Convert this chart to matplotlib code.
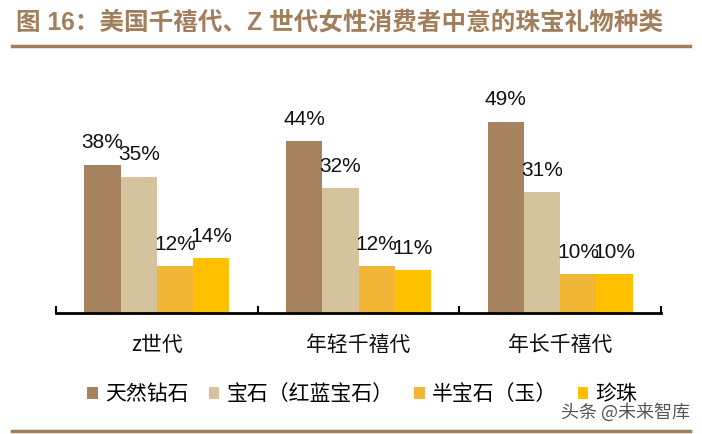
import matplotlib
matplotlib.use("Agg")
import matplotlib.pyplot as plt
from matplotlib.patches import Patch
from matplotlib.lines import Line2D
import numpy as np

plt.rcParams['font.family'] = ['Noto Sans CJK SC', 'DejaVu Sans']

# data
groups = ['z世代', '年轻千禧代', '年长千禧代']
series = ['天然钻石', '宝石（红蓝宝石）', '半宝石（玉）', '珍珠']
diamond = [38, 44, 49]
gem = [35, 32, 31]
semi_gem = [12, 12, 10]
pearl = [14, 11, 10]
values = [diamond, gem, semi_gem, pearl]
colors = ['#A6835E', '#D4C39C', '#F2B636', '#FFC000']

title = '图 16：美国千禧代、Z 世代女性消费者中意的珠宝礼物种类'
watermark = '头条 @未来智库'
brown = '#A27F5C'

fig = plt.figure(figsize=(7.02, 4.34), dpi=100)
ax = fig.add_axes([0.0798, 0.2788, 0.8618, 0.539])

x = np.arange(len(groups))
width = 0.18
offsets = [-0.27, -0.09, 0.09, 0.27]
for vals, off, col in zip(values, offsets, colors):
    bars = ax.bar(x + off, vals, width=width, color=col, zorder=2)
    for b, v in zip(bars, vals):
        ax.annotate(f'{v}%', (b.get_x() + b.get_width() / 2, v),
                    xytext=(0, 9), textcoords='offset points',
                    ha='center', va='bottom', fontsize=15,
                    family=['Liberation Sans'], color='#111111')

ax.set_xlim(-0.5, 2.5)
ax.set_ylim(0, 60)
for s in ['top', 'right', 'left']:
    ax.spines[s].set_visible(False)
ax.spines['bottom'].set_linewidth(2)
ax.set_yticks([])
ax.set_xticks([-0.5, 0.5, 1.5, 2.5])
ax.set_xticklabels([])
ax.tick_params(axis='x', direction='in', length=5, width=1.5)
for xi, g in zip(x, groups):
    ax.text(xi, -0.135, g, transform=ax.get_xaxis_transform(), ha='center',
            va='center', fontsize=15, color='#111111')

# title and rules
fig.text(0.023, 0.949, title, fontsize=17.7, fontweight='bold', color=brown,
         family=['Liberation Sans', 'Noto Sans CJK SC'], va='center', ha='left')
fig.add_artist(Line2D([0.017, 0.983], [0.894, 0.894], color=brown, lw=2.5))
fig.add_artist(Line2D([0.017, 0.983], [0.007, 0.007], color=brown, lw=2.5))

handles = [Patch(facecolor=c, edgecolor='none') for c in colors]
fig.legend(handles, series, loc='center', bbox_to_anchor=(0.516, 0.092),
           ncol=4, frameon=False, fontsize=15, handlelength=0.5,
           handleheight=0.5, handletextpad=0.34, columnspacing=1.0,
           borderpad=0, borderaxespad=0)

fig.text(0.983, 0.051, watermark, fontsize=13, color='#555555',
         ha='right', va='center')

fig.savefig('out.png', dpi=100)
